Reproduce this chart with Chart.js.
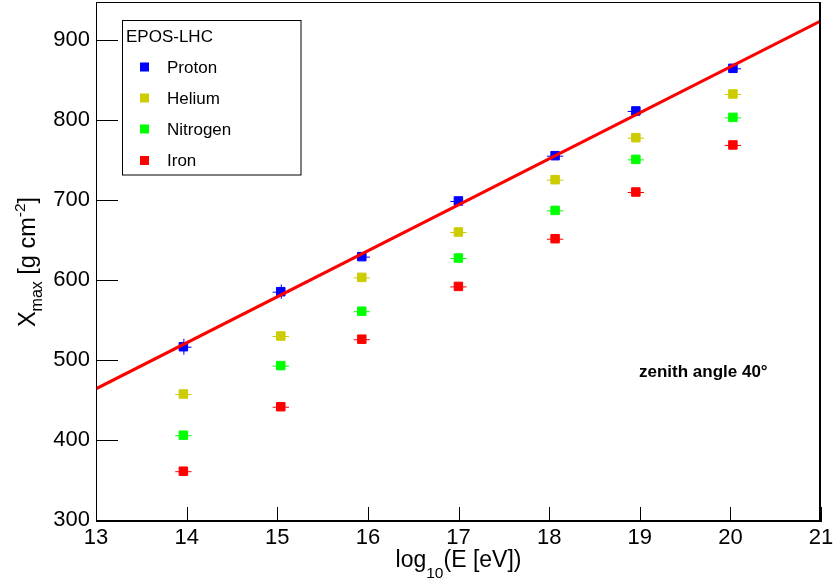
<!DOCTYPE html>
<html>
<head>
<meta charset="utf-8">
<script src="https://cdn.jsdelivr.net/npm/chart.js@4.4.1/dist/chart.umd.min.js"></script>
<style>
html,body{margin:0;padding:0;background:#fff;}
#wrap{width:834px;height:586px;position:relative;}
</style>
</head>
<body>
<div id="wrap"><canvas id="c" width="834" height="586"></canvas></div>
<script>
// ---- data ----
const energies = [13.964, 15.039, 15.933, 16.999, 18.066, 18.957, 20.028];
const proton   = [516.6, 585.4, 629.2, 698.8, 755.4, 811.3, 864.6];
const helium   = [457.5, 530.0, 603.3, 660.0, 725.4, 777.9, 832.5];
const nitrogen = [406.0, 493.0, 561.0, 627.5, 687.0, 750.8, 803.3];
const iron     = [361.0, 441.6, 526.0, 592.0, 651.6, 710.0, 768.8];
const protonErr   = [10, 9, 3, 3, 2, 2, 2];
const heliumErr   = [2, 2, 2, 2, 2, 2, 2];
const nitrogenErr = [2, 2, 2, 2, 2, 2, 2];
const ironErr     = [2, 2, 2, 2, 2, 2, 2];
const energyErr = 0.09;
const fitX = [13, 21];
const fitY = [464, 924];
const xTicks = [13, 14, 15, 16, 17, 18, 19, 20, 21];
const yTicks = [300, 400, 500, 600, 700, 800, 900];
const seriesNames = ['Proton', 'Helium', 'Nitrogen', 'Iron'];
const seriesColors = ['#0000ff', '#cccc00', '#00ff00', '#ff0000'];
const legendTitle = 'EPOS-LHC';
const annotation = 'zenith angle 40°';

const FONT = "'Liberation Sans', Arial, Helvetica, sans-serif";
const seriesVals = [proton, helium, nitrogen, iron];
const seriesErrs = [protonErr, heliumErr, nitrogenErr, ironErr];

const toPts = (ys, errs) => ys.map((y, i) => ({x: energies[i], y: y, ey: errs[i]}));

const datasets = [{
  type: 'line',
  label: 'fit',
  data: fitX.map((x, i) => ({x: x, y: fitY[i]})),
  borderColor: '#ff0000',
  borderWidth: 3,
  pointRadius: 0,
  fill: false,
  order: 0
}];
seriesNames.forEach((n, k) => {
  datasets.push({
    type: 'scatter',
    label: n,
    data: toPts(seriesVals[k], seriesErrs[k]),
    backgroundColor: seriesColors[k],
    borderColor: seriesColors[k],
    borderWidth: 1,
    pointStyle: 'rect',
    pointRadius: 6,
    pointHoverRadius: 6,
    order: 1 + k
  });
});

function drawRich(ctx, parts, x, y) {
  let cx = x;
  parts.forEach(p => {
    ctx.font = p.size + 'px ' + FONT;
    ctx.fillText(p.t, cx, y + (p.dy || 0));
    cx += ctx.measureText(p.t).width;
  });
  return cx - x;
}
function richWidth(ctx, parts) {
  let w = 0;
  parts.forEach(p => { ctx.font = p.size + 'px ' + FONT; w += ctx.measureText(p.t).width; });
  return w;
}

const decor = {
  id: 'decor',
  beforeDatasetsDraw(chart) {
    const ctx = chart.ctx, xs = chart.scales.x, ys = chart.scales.y;
    ctx.save();
    chart.data.datasets.forEach(ds => {
      if (ds.type !== 'scatter') return;
      ctx.strokeStyle = ds.borderColor;
      ctx.lineWidth = 1;
      ds.data.forEach(p => {
        const px = xs.getPixelForValue(p.x), py = ys.getPixelForValue(p.y);
        const x0 = xs.getPixelForValue(p.x - energyErr), x1 = xs.getPixelForValue(p.x + energyErr);
        const y0 = ys.getPixelForValue(p.y - p.ey), y1 = ys.getPixelForValue(p.y + p.ey);
        ctx.beginPath();
        ctx.moveTo(x0, py + 0.5); ctx.lineTo(x1, py + 0.5);
        ctx.moveTo(px + 0.5, y0); ctx.lineTo(px + 0.5, y1);
        ctx.stroke();
      });
    });
    ctx.restore();
  },
  afterDraw(chart) {
    const ctx = chart.ctx, a = chart.chartArea, xs = chart.scales.x, ys = chart.scales.y;
    ctx.save();
    // frame
    ctx.strokeStyle = '#000';
    ctx.lineWidth = 1;
    ctx.strokeRect(a.left + 0.5, a.top + 0.5, a.right - a.left - 1, a.bottom - a.top - 1);
    ctx.lineWidth = 2;
    ctx.beginPath();
    ctx.moveTo(a.left, a.bottom - 1); ctx.lineTo(a.right, a.bottom - 1);
    ctx.moveTo(a.right - 1, a.top); ctx.lineTo(a.right - 1, a.bottom);
    ctx.stroke();
    // ticks (inward)
    ctx.lineWidth = 1;
    ctx.beginPath();
    yTicks.forEach(v => {
      const y = Math.round(ys.getPixelForValue(v)) + 0.5;
      ctx.moveTo(a.left, y); ctx.lineTo(a.left + 22, y);
    });
    xTicks.forEach(v => {
      const x = Math.round(xs.getPixelForValue(v)) + 0.5;
      ctx.moveTo(x, a.bottom); ctx.lineTo(x, a.bottom - 15);
    });
    ctx.stroke();

    // axis titles
    ctx.fillStyle = '#000';
    ctx.textBaseline = 'alphabetic';
    ctx.textAlign = 'left';
    const xt = [{t: 'log', size: 23}, {t: '10', size: 15.5, dy: 11}, {t: '(E [eV])', size: 23}];
    const xw = richWidth(ctx, xt);
    drawRich(ctx, xt, (a.left + a.right) / 2 - xw / 2, 567);

    const yt = [{t: 'X', size: 23.5}, {t: 'max', size: 16, dy: 7}, {t: ' [g cm', size: 23.5}, {t: '-2', size: 15.5, dy: -10}, {t: ']', size: 23.5}];
    const yw = richWidth(ctx, yt);
    ctx.save();
    ctx.translate(35, (a.top + a.bottom) / 2);
    ctx.rotate(-Math.PI / 2);
    drawRich(ctx, yt, -yw / 2, 0);
    ctx.restore();

    // legend
    ctx.lineWidth = 1;
    ctx.strokeStyle = '#000';
    ctx.strokeRect(122.5, 20.5, 178.5, 154.5);
    ctx.font = '17px ' + FONT;
    ctx.fillText(legendTitle, 126, 42);
    const rows = [67, 98, 129, 160.5];
    ctx.textBaseline = 'middle';
    seriesNames.forEach((n, k) => {
      ctx.fillStyle = seriesColors[k];
      ctx.fillRect(140, rows[k] - 4.5, 9, 9);
      ctx.fillStyle = '#000';
      ctx.fillText(n, 167, rows[k] + 1);
    });

    // annotation
    ctx.textBaseline = 'alphabetic';
    ctx.font = 'bold 17px ' + FONT;
    ctx.fillText(annotation, 639, 377);
    ctx.restore();
  }
};

new Chart(document.getElementById('c'), {
  data: {datasets: datasets},
  options: {
    responsive: false,
    animation: false,
    devicePixelRatio: 1,
    layout: {autoPadding: false, padding: {top: 2, right: 13, left: 0, bottom: 0}},
    plugins: {legend: {display: false}, tooltip: {enabled: false}},
    scales: {
      x: {
        type: 'linear', min: 13, max: 21,
        afterBuildTicks: s => { s.ticks = xTicks.map(v => ({value: v})); },
        afterFit: s => { s.height = 64; s.paddingLeft = 0; s.paddingRight = 0; },
        grid: {display: false, drawTicks: false},
        border: {display: false},
        ticks: {color: '#000', font: {family: FONT, size: 22}, padding: 3, maxRotation: 0, autoSkip: false, callback: v => String(v)}
      },
      y: {
        type: 'linear', min: 297.5, max: 947.5,
        afterBuildTicks: s => { s.ticks = yTicks.map(v => ({value: v})); },
        afterFit: s => { s.width = 96; s.paddingTop = 0; s.paddingBottom = 0; },
        grid: {display: false, drawTicks: false},
        border: {display: false},
        ticks: {color: '#000', font: {family: FONT, size: 22}, padding: 6, autoSkip: false, callback: v => String(v)}
      }
    }
  },
  plugins: [decor]
});
</script>
</body>
</html>
